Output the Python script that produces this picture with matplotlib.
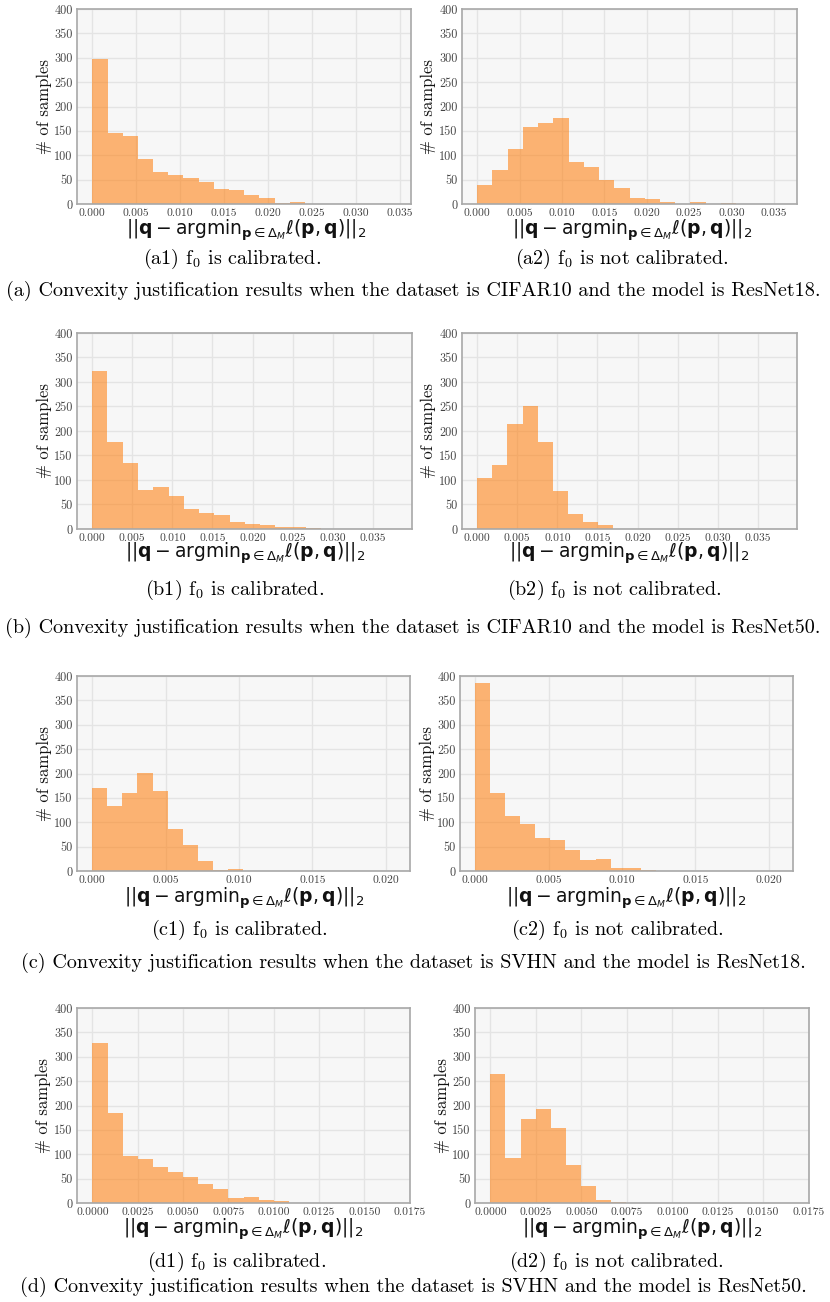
import numpy as np
import matplotlib
matplotlib.use("Agg")
import matplotlib.pyplot as plt
from matplotlib.ticker import MultipleLocator, FormatStrFormatter

# ---------------- data ----------------
panel_ids = ["a1", "a2", "b1", "b2", "c1", "c2", "d1", "d2"]

counts_a1 = [297, 145, 140, 93, 65, 60, 54, 46, 31, 29, 18, 13, 3, 5, 1, 0, 0, 1, 0, 1]
counts_a2 = [40, 69, 112, 158, 167, 177, 86, 75, 50, 33, 12, 10, 5, 1, 4, 0, 2, 0, 0, 1]
counts_b1 = [322, 177, 134, 79, 85, 67, 41, 33, 29, 14, 11, 8, 5, 4, 3, 0, 0, 1, 0, 1]
counts_b2 = [104, 130, 215, 250, 177, 77, 30, 14, 9, 0, 1, 1, 0, 0, 0, 0, 0, 0, 0, 1]
counts_c1 = [171, 133, 160, 201, 165, 87, 53, 20, 3, 4, 0, 1, 0, 0, 0, 0, 0, 0, 0, 1]
counts_c2 = [385, 161, 113, 96, 68, 63, 44, 22, 25, 7, 6, 3, 1, 0, 0, 1, 0, 0, 0, 1]
counts_d1 = [328, 185, 97, 90, 73, 64, 53, 38, 28, 11, 13, 7, 5, 1, 1, 0, 0, 0, 0, 1]
counts_d2 = [264, 92, 173, 192, 153, 77, 35, 6, 3, 0, 0, 0, 0, 0, 0, 0, 0, 0, 0, 1]

# upper end of histogram range (20 equal bins from 0)
range_max = {"a1": 0.0346, "a2": 0.0359, "b1": 0.0381, "b2": 0.0377,
             "c1": 0.0206, "c2": 0.0205, "d1": 0.01667, "d2": 0.01653}

counts = {"a1": counts_a1, "a2": counts_a2, "b1": counts_b1, "b2": counts_b2,
          "c1": counts_c1, "c2": counts_c2, "d1": counts_d1, "d2": counts_d2}

sub_captions = {
    "a1": "(a1) f$_0$ is calibrated.", "a2": "(a2) f$_0$ is not calibrated.",
    "b1": "(b1) f$_0$ is calibrated.", "b2": "(b2) f$_0$ is not calibrated.",
    "c1": "(c1) f$_0$ is calibrated.", "c2": "(c2) f$_0$ is not calibrated.",
    "d1": "(d1) f$_0$ is calibrated.", "d2": "(d2) f$_0$ is not calibrated.",
}
main_captions = [
    "(a) Convexity justification results when the dataset is CIFAR10 and the model is ResNet18.",
    "(b) Convexity justification results when the dataset is CIFAR10 and the model is ResNet50.",
    "(c) Convexity justification results when the dataset is SVHN and the model is ResNet18.",
    "(d) Convexity justification results when the dataset is SVHN and the model is ResNet50.",
]
y_ticks = [0, 50, 100, 150, 200, 250, 300, 350, 400]
x_label = r"$||\mathbf{q} - \mathrm{argmin}_{\mathbf{p} \in \Delta_M} \ell(\mathbf{p}, \mathbf{q})||_2$"
y_label = "# of samples"

# ---------------- layout (pixels) ----------------
W, H = 830, 1302
fig = plt.figure(figsize=(W / 100, H / 100), dpi=100)
fig.patch.set_facecolor("white")

# left, top, right, bottom
rects = {
    "a1": (77, 9, 411, 204), "a2": (462, 9, 797, 204),
    "b1": (77, 333, 412, 529), "b2": (462, 333, 797, 529),
    "c1": (77, 676, 410, 871), "c2": (460, 676, 793, 871),
    "d1": (77, 1008, 410, 1203), "d2": (475, 1008, 809, 1203),
}
xlims = {
    "a1": (-0.00175, 0.0363), "a2": (-0.0018, 0.0377),
    "b1": (-0.0019, 0.0399), "b2": (-0.0019, 0.0399),
    "c1": (-0.00103, 0.02165), "c2": (-0.00103, 0.02165),
    "d1": (-0.00085, 0.01752), "d2": (-0.00085, 0.01752),
}
xtick_step = {"a": 0.005, "b": 0.005, "c": 0.005, "d": 0.0025}
xtick_fmt = {"a": "%.3f", "b": "%.3f", "c": "%.3f", "d": "%.4f"}
xlabel_pos = {"a1": (246, 230), "a2": (632, 230), "b1": (245, 553), "b2": (629, 553),
              "c1": (244, 898), "c2": (626, 898), "d1": (243, 1229), "d2": (642, 1229)}
ylabel_x = {"a1": 44, "a2": 428, "b1": 44, "b2": 428, "c1": 44, "c2": 427,
            "d1": 43, "d2": 442}
subcap_pos = {"a1": (232, 264), "a2": (622, 264), "b1": (235, 595), "b2": (614, 595),
              "c1": (239, 935), "c2": (617, 935), "d1": (237, 1267), "d2": (616, 1267)}
maincap_y = [296, 633, 968, 1292]

bar_color = "#ff7f0e"
serif = "cmr10"

for pid in panel_ids:
    l, t, r, b = rects[pid]
    ax = fig.add_axes([l / W, 1 - b / H, (r - l) / W, (b - t) / H])
    ax.set_facecolor("#f7f7f7")
    edges = np.linspace(0, range_max[pid], len(counts[pid]) + 1)
    ax.hist(edges[:-1], bins=edges, weights=counts[pid], color=bar_color,
            alpha=0.57, edgecolor="none", zorder=2)
    ax.set_xlim(*xlims[pid])
    ax.set_ylim(0, 400)
    ax.set_yticks(y_ticks)
    grp = pid[0]
    ax.xaxis.set_major_locator(MultipleLocator(xtick_step[grp]))
    ax.xaxis.set_major_formatter(FormatStrFormatter(xtick_fmt[grp]))
    ax.grid(True, color="#e4e4e4", linewidth=1.0, zorder=0)
    ax.set_axisbelow(True)
    for s in ax.spines.values():
        s.set_color("#a8a8a8")
        s.set_linewidth(1.2)
    ax.tick_params(length=0, pad=3, labelcolor="#444444")
    ax.tick_params(axis="x", labelsize=8.3)
    ax.tick_params(axis="y", labelsize=8.8)
    for lab in ax.get_xticklabels() + ax.get_yticklabels():
        lab.set_fontfamily(serif)
    # labels
    xl, yl = xlabel_pos[pid]
    ax.set_xlabel(x_label, fontsize=13.5, math_fontfamily="dejavusans",
                  va="center", ha="center", color="#111111")
    ax.xaxis.set_label_coords((xl - l) / (r - l), (b - yl) / (b - t))
    ax.set_ylabel(y_label, fontsize=12, fontfamily=serif, va="center",
                  ha="center", color="#111111")
    ax.yaxis.set_label_coords((ylabel_x[pid] - l) / (r - l), 0.5)
    cx, cy = subcap_pos[pid]
    fig.text(cx / W, 1 - cy / H, sub_captions[pid], fontsize=14.5,
             fontfamily=serif, math_fontfamily="cm", ha="center", va="baseline")

for cap, cy in zip(main_captions, maincap_y):
    fig.text(413 / W, 1 - cy / H, cap, fontsize=14.5, fontfamily=serif,
             ha="center", va="baseline")

fig.savefig("out.png", dpi=100)
